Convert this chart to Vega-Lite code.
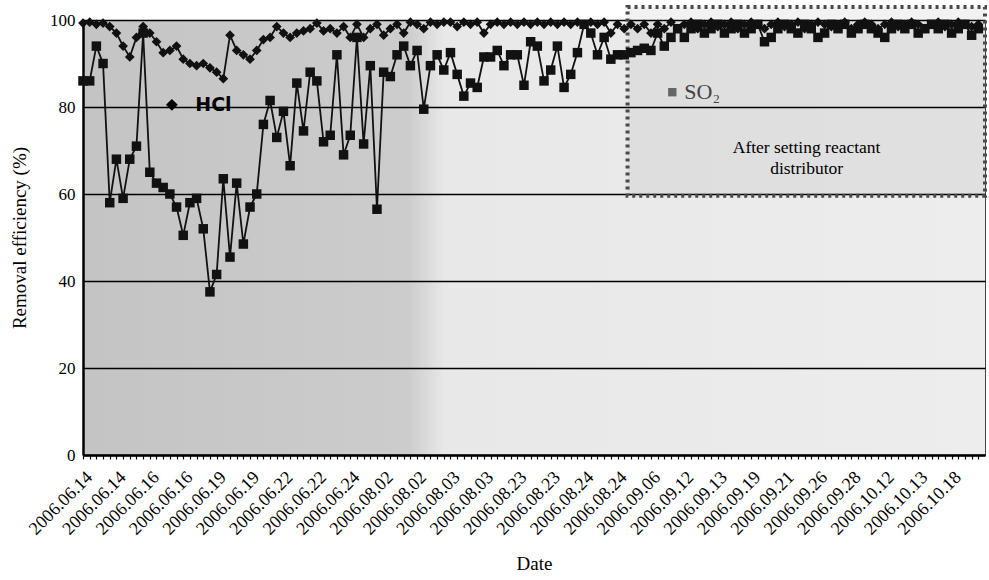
{
  "$schema": "https://vega.github.io/schema/vega-lite/v6.json",
  "width": 902,
  "height": 435,
  "autosize": {"type": "none"},
  "padding": {"left": 83, "top": 20, "right": 4, "bottom": 125},
  "background": "white",
  "config": {
    "font": "Liberation Serif",
    "view": {
      "fill": {"gradient": "linear", "x1": 0, "x2": 1, "y1": 0, "y2": 0,
        "stops": [
          {"offset": 0, "color": "#c4c4c4"},
          {"offset": 0.36, "color": "#cccccc"},
          {"offset": 0.40, "color": "#e8e8e8"},
          {"offset": 1, "color": "#ededed"}
        ]},
      "stroke": "#444",
      "strokeWidth": 1
    }
  },
  "datasets": {
    "main": [
      {"i":0,"HCl":99.3,"SO2":86},{"i":1,"HCl":99.5,"SO2":86},{"i":2,"HCl":99,"SO2":94},{"i":3,"HCl":99.3,"SO2":90},
      {"i":4,"HCl":98.5,"SO2":58},{"i":5,"HCl":97,"SO2":68},{"i":6,"HCl":94,"SO2":59},{"i":7,"HCl":91.5,"SO2":68},
      {"i":8,"HCl":96,"SO2":71},{"i":9,"HCl":98.5,"SO2":97},{"i":10,"HCl":97,"SO2":65},{"i":11,"HCl":95,"SO2":62.5},
      {"i":12,"HCl":92.5,"SO2":61.5},{"i":13,"HCl":93,"SO2":60},{"i":14,"HCl":94,"SO2":57},{"i":15,"HCl":91,"SO2":50.5},
      {"i":16,"HCl":90,"SO2":58},{"i":17,"HCl":89.5,"SO2":59},{"i":18,"HCl":90,"SO2":52},{"i":19,"HCl":89,"SO2":37.5},
      {"i":20,"HCl":88,"SO2":41.5},{"i":21,"HCl":86.5,"SO2":63.5},{"i":22,"HCl":96.5,"SO2":45.5},{"i":23,"HCl":93,"SO2":62.5},
      {"i":24,"HCl":92,"SO2":48.5},{"i":25,"HCl":91,"SO2":57},{"i":26,"HCl":93,"SO2":60},{"i":27,"HCl":95.5,"SO2":76},
      {"i":28,"HCl":96,"SO2":81.5},{"i":29,"HCl":98.5,"SO2":73},{"i":30,"HCl":97,"SO2":79},{"i":31,"HCl":96,"SO2":66.5},
      {"i":32,"HCl":97,"SO2":85.5},{"i":33,"HCl":97.5,"SO2":74.5},{"i":34,"HCl":98,"SO2":88},{"i":35,"HCl":99.3,"SO2":86},
      {"i":36,"HCl":97.5,"SO2":72},{"i":37,"HCl":98,"SO2":73.5},{"i":38,"HCl":97,"SO2":92},{"i":39,"HCl":98.5,"SO2":69},
      {"i":40,"HCl":96,"SO2":73.5},{"i":41,"HCl":99,"SO2":96},{"i":42,"HCl":96,"SO2":71.5},{"i":43,"HCl":98,"SO2":89.5},
      {"i":44,"HCl":99,"SO2":56.5},{"i":45,"HCl":96.5,"SO2":88},{"i":46,"HCl":98,"SO2":87},{"i":47,"HCl":99,"SO2":92},
      {"i":48,"HCl":97,"SO2":94},{"i":49,"HCl":99.5,"SO2":89.5},{"i":50,"HCl":99,"SO2":93},{"i":51,"HCl":98,"SO2":79.5},
      {"i":52,"HCl":99.5,"SO2":89.5},{"i":53,"HCl":99,"SO2":92},{"i":54,"HCl":99.5,"SO2":88.5},{"i":55,"HCl":99.5,"SO2":92.5},
      {"i":56,"HCl":98.5,"SO2":87.5},{"i":57,"HCl":99.5,"SO2":82.5},{"i":58,"HCl":99,"SO2":85.5},{"i":59,"HCl":99.5,"SO2":84.5},
      {"i":60,"HCl":97,"SO2":91.5},{"i":61,"HCl":99,"SO2":91.5},{"i":62,"HCl":99.5,"SO2":93},{"i":63,"HCl":99,"SO2":89.5},
      {"i":64,"HCl":99.5,"SO2":92},{"i":65,"HCl":99,"SO2":92},{"i":66,"HCl":99.5,"SO2":85},{"i":67,"HCl":99,"SO2":95},
      {"i":68,"HCl":99.5,"SO2":94},{"i":69,"HCl":99,"SO2":86},{"i":70,"HCl":99.5,"SO2":88.5},{"i":71,"HCl":99,"SO2":94},
      {"i":72,"HCl":99.5,"SO2":84.5},{"i":73,"HCl":99,"SO2":87.5},{"i":74,"HCl":99.5,"SO2":92.5},{"i":75,"HCl":99,"SO2":99},
      {"i":76,"HCl":99.5,"SO2":97},{"i":77,"HCl":99,"SO2":92},{"i":78,"HCl":99.5,"SO2":96},{"i":79,"HCl":97,"SO2":91},
      {"i":80,"HCl":99,"SO2":92},{"i":81,"HCl":98,"SO2":92},{"i":82,"HCl":99,"SO2":92.5},{"i":83,"HCl":98,"SO2":93},
      {"i":84,"HCl":99,"SO2":93.5},{"i":85,"HCl":97,"SO2":93},{"i":86,"HCl":99,"SO2":97},{"i":87,"HCl":98,"SO2":94},
      {"i":88,"HCl":99.5,"SO2":96},{"i":89,"HCl":98,"SO2":98},{"i":90,"HCl":99,"SO2":96},{"i":91,"HCl":99.5,"SO2":98},
      {"i":92,"HCl":98,"SO2":99},{"i":93,"HCl":99,"SO2":97},{"i":94,"HCl":99.5,"SO2":98},{"i":95,"HCl":98.5,"SO2":99},
      {"i":96,"HCl":99,"SO2":97},{"i":97,"HCl":99.5,"SO2":98},{"i":98,"HCl":98,"SO2":99},{"i":99,"HCl":99,"SO2":97},
      {"i":100,"HCl":99.5,"SO2":98},{"i":101,"HCl":99,"SO2":99},{"i":102,"HCl":98,"SO2":95},{"i":103,"HCl":99,"SO2":96},
      {"i":104,"HCl":99.5,"SO2":98},{"i":105,"HCl":98.5,"SO2":99},{"i":106,"HCl":99,"SO2":98},{"i":107,"HCl":99.5,"SO2":97},
      {"i":108,"HCl":98,"SO2":99},{"i":109,"HCl":99,"SO2":98},{"i":110,"HCl":99.5,"SO2":96},{"i":111,"HCl":99,"SO2":97},
      {"i":112,"HCl":98.5,"SO2":99},{"i":113,"HCl":99,"SO2":98},{"i":114,"HCl":99.5,"SO2":99},{"i":115,"HCl":98,"SO2":97},
      {"i":116,"HCl":99,"SO2":98},{"i":117,"HCl":99.5,"SO2":99},{"i":118,"HCl":99,"SO2":98},{"i":119,"HCl":98,"SO2":97},
      {"i":120,"HCl":99,"SO2":96},{"i":121,"HCl":99.5,"SO2":98},{"i":122,"HCl":98.5,"SO2":99},{"i":123,"HCl":99,"SO2":98},
      {"i":124,"HCl":99.5,"SO2":99},{"i":125,"HCl":99,"SO2":97},{"i":126,"HCl":98,"SO2":98},{"i":127,"HCl":99,"SO2":99},
      {"i":128,"HCl":99.5,"SO2":98},{"i":129,"HCl":98.5,"SO2":99},{"i":130,"HCl":99,"SO2":97},{"i":131,"HCl":99.5,"SO2":98},
      {"i":132,"HCl":99,"SO2":99},{"i":133,"HCl":98.5,"SO2":96.5},{"i":134,"HCl":99,"SO2":98}
    ],
    "box": [{"i": 81.5, "i2": 135, "v": 59.6, "v2": 103}],
    "hclMark": [{"i": 13.3, "v": 80.5}],
    "hclText": [{"i": 16.8, "v": 80.5, "label": "HCl"}],
    "so2Mark": [{"i": 88.2, "v": 83.4}],
    "so2Text": [{"i": 90.0, "v": 83.4, "label": "SO₂"}],
    "note": [{"i": 108.3, "v": 70.6, "label": "After setting reactant\ndistributor"}]
  },
  "encoding": {
    "x": {"field": "i", "type": "quantitative",
      "scale": {"domain": [0, 135], "nice": false, "zero": false},
      "axis": {
        "title": "Date", "titleFont": "Liberation Serif", "titleFontSize": 19, "titleFontWeight": "normal", "titleColor": "#000", "titlePadding": 16,
        "values": [0,1,2,3,4,5,6,7,8,9,10,11,12,13,14,15,16,17,18,19,20,21,22,23,24,25,26,27,28,29,30,31,32,33,34,35,36,37,38,39,40,41,42,43,44,45,46,47,48,49,50,51,52,53,54,55,56,57,58,59,60,61,62,63,64,65,66,67,68,69,70,71,72,73,74,75,76,77,78,79,80,81,82,83,84,85,86,87,88,89,90,91,92,93,94,95,96,97,98,99,100,101,102,103,104,105,106,107,108,109,110,111,112,113,114,115,116,117,118,119,120,121,122,123,124,125,126,127,128,129,130,131,132,133,134],
        "labelExpr": "datum.value % 5 === 0 ? ['2006.06.14','2006.06.14','2006.06.16','2006.06.16','2006.06.19','2006.06.19','2006.06.22','2006.06.22','2006.06.24','2006.08.02','2006.08.02','2006.08.03','2006.08.03','2006.08.23','2006.08.23','2006.08.24','2006.08.24','2006.09.06','2006.09.12','2006.09.13','2006.09.19','2006.09.21','2006.09.26','2006.09.28','2006.10.12','2006.10.13','2006.10.18'][datum.value / 5] : ''",
        "labelAngle": -45, "labelFont": "Liberation Serif", "labelFontSize": 18, "labelColor": "#000",
        "labelOverlap": false, "labelFlush": false, "labelBound": false, "labelPadding": 9,
        "tickSize": 4, "tickColor": "#000", "tickWidth": 1.2,
        "domainColor": "#000", "domainWidth": 2.5, "grid": false
      }
    },
    "y": {"field": "v", "type": "quantitative",
      "scale": {"domain": [0, 100], "nice": false},
      "axis": {
        "title": "Removal efficiency (%)", "titleFont": "Liberation Serif", "titleFontSize": 19, "titleFontWeight": "normal", "titleColor": "#000", "titlePadding": 20,
        "values": [0, 20, 40, 60, 80, 100],
        "labelFont": "Liberation Serif", "labelFontSize": 17, "labelColor": "#000", "labelPadding": 8,
        "ticks": false, "grid": true, "gridColor": "#000", "gridWidth": 1.5, "gridOpacity": 1,
        "domainColor": "#000", "domainWidth": 2.5
      }
    }
  },
  "layer": [
    {
      "data": {"name": "box"},
      "mark": {"type": "rect", "fill": "#000", "fillOpacity": 0.05, "stroke": "#4a4a4a", "strokeWidth": 4, "strokeDash": [3, 4]},
      "encoding": {"x2": {"field": "i2"}, "y2": {"field": "v2"}}
    },
    {
      "data": {"name": "main"},
      "transform": [{"fold": ["SO2", "HCl"], "as": ["s", "v"]}],
      "mark": {"type": "line", "color": "#111", "strokeWidth": 1.8},
      "encoding": {"detail": {"field": "s", "type": "nominal"}}
    },
    {
      "data": {"name": "main"},
      "transform": [{"fold": ["SO2", "HCl"], "as": ["s", "v"]}],
      "mark": {"type": "point", "filled": true, "color": "#111", "opacity": 1},
      "encoding": {
        "shape": {"field": "s", "type": "nominal", "scale": {"domain": ["HCl", "SO2"], "range": ["diamond", "square"]}, "legend": null},
        "size": {"field": "s", "type": "nominal", "scale": {"domain": ["HCl", "SO2"], "range": [95, 90]}, "legend": null}
      }
    },
    {
      "data": {"name": "hclMark"},
      "mark": {"type": "point", "shape": "diamond", "filled": true, "color": "#000", "size": 140, "opacity": 1}
    },
    {
      "data": {"name": "hclText"},
      "mark": {"type": "text", "align": "left", "baseline": "middle", "font": "DejaVu Sans", "fontWeight": "bold", "fontSize": 19, "color": "#000"},
      "encoding": {"text": {"field": "label"}}
    },
    {
      "data": {"name": "so2Mark"},
      "mark": {"type": "point", "shape": "square", "filled": true, "color": "#666", "size": 70, "opacity": 1}
    },
    {
      "data": {"name": "so2Text"},
      "mark": {"type": "text", "align": "left", "baseline": "middle", "font": "Liberation Serif", "fontSize": 22, "color": "#444"},
      "encoding": {"text": {"field": "label"}}
    },
    {
      "data": {"name": "note"},
      "mark": {"type": "text", "align": "center", "baseline": "middle", "font": "Liberation Serif", "fontSize": 17.5, "lineHeight": 21, "lineBreak": "\n", "color": "#000"},
      "encoding": {"text": {"field": "label"}}
    }
  ]
}
